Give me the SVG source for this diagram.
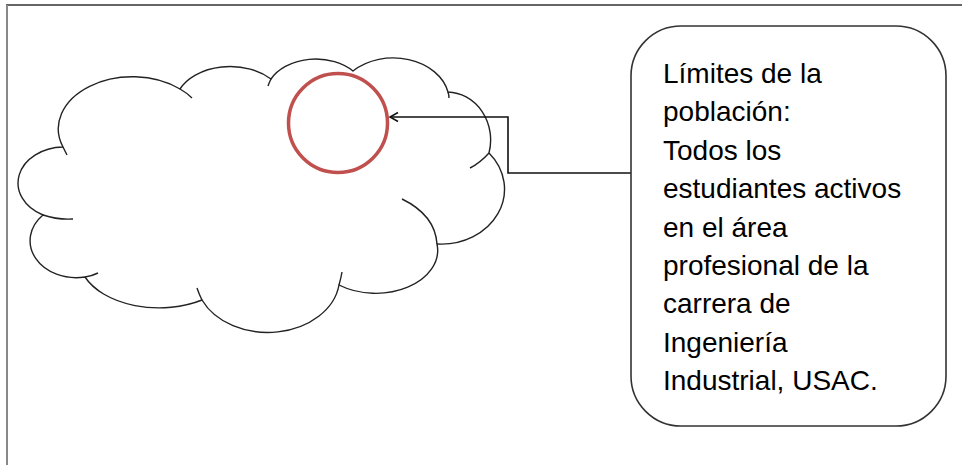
<svg xmlns="http://www.w3.org/2000/svg" width="962" height="465" viewBox="0 0 962 465">
<style>
.cloud{fill:#fff;stroke:#222;stroke-width:1.4}
.tail{fill:none;stroke:#222;stroke-width:1.4}
.conn{fill:none;stroke:#111;stroke-width:1.6}
.box{fill:#fff;stroke:#333;stroke-width:1.6}
.lbl{font-family:"Liberation Sans",Arial,sans-serif;font-size:28px;fill:#000}
</style>
<defs>
<marker id="arr" markerUnits="userSpaceOnUse" markerWidth="12" markerHeight="12" refX="9" refY="6" orient="auto">
<path d="M1,1.5 L9,6 L1,10.5" fill="none" stroke="#111" stroke-width="1.5"/>
</marker>
</defs>
<rect x="0" y="0" width="962" height="465" fill="#fff"/>
<g id="frame">
<line x1="6" y1="5" x2="962" y2="5" stroke="#333" stroke-width="1.6"/>
<line x1="7" y1="5" x2="7" y2="465" stroke="#888" stroke-width="2"/>
</g>
<g id="cloud">
<path class="cloud" d="M63,147 A74,52 0 0 1 180,89 A55,38 0 0 1 271,79 A50,36 0 0 1 353,71 A56,43 0 0 1 448,92 A44,48 0 0 1 489,153 A63,55 0 0 1 437,244 A62,43 0 0 1 339,285 A72,55 0 0 1 202,300 A80,50 0 0 1 85,277 A46,37 0 0 1 43,215 A46,36 0 0 1 63,147 Z"/>
<path class="tail" d="M43,215 Q58,220 73,219 M85,277 Q92,276 98,273 M202,300 Q199,294 197,288 M339,285 Q341,278 342,272 M437,244 Q435,215 402,199 M489,153 Q480,163 470,168 M448,92 Q449,95 449,98 M271,79 Q269,83 268,86 M180,89 Q187,93 192,98 M63,147 Q65,151 67,155"/>
</g>
<g id="circle">
<circle cx="338" cy="123" r="49.5" fill="none" stroke="#c0504d" stroke-width="3.5"/>
</g>
<g id="connectors">
<path class="conn" d="M631,173 H508 V117 H390" marker-end="url(#arr)"/>
</g>
<g id="callout">
<rect class="box" x="631" y="26" width="315" height="400" rx="50" ry="50"/>
<text class="lbl" x="663">
<tspan x="663" y="83">Límites de la</tspan>
<tspan x="663" y="121.4">población:</tspan>
<tspan x="663" y="159.8">Todos los</tspan>
<tspan x="663" y="198.2">estudiantes activos</tspan>
<tspan x="663" y="236.6">en el área</tspan>
<tspan x="663" y="275">profesional de la</tspan>
<tspan x="663" y="313.4">carrera de</tspan>
<tspan x="663" y="351.8">Ingeniería</tspan>
<tspan x="663" y="390.2">Industrial, USAC.</tspan>
</text>
</g>
</svg>
